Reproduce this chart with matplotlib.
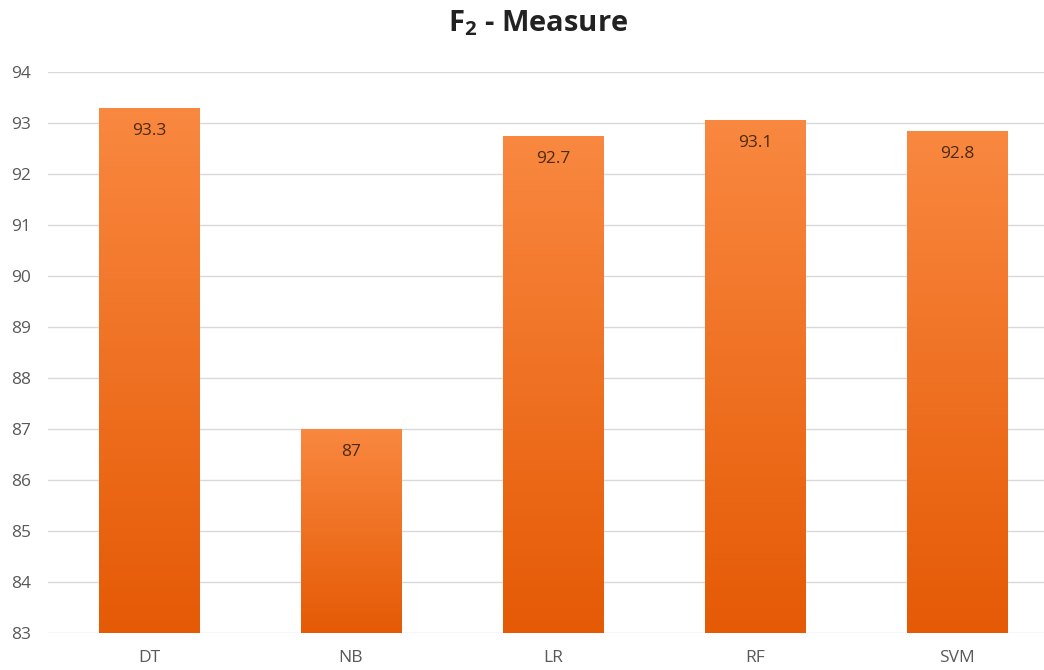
import matplotlib
matplotlib.use("Agg")
import matplotlib.pyplot as plt
import numpy as np
from matplotlib.colors import LinearSegmentedColormap

# data
models = ["DT", "NB", "LR", "RF", "SVM"]
f2_scores = [93.28, 87.0, 92.74, 93.06, 92.84]
y_ticks = [83, 84, 85, 86, 87, 88, 89, 90, 91, 92, 93, 94]

plt.rcParams['font.family'] = ['Open Sans', 'DejaVu Sans']

fig = plt.figure(figsize=(10.44, 6.70), dpi=100)
ax = fig.add_axes([48 / 1044, 1 - 633 / 670, 1 - 48 / 1044, (633 - 71.7) / 670])

x = np.arange(len(models))
bars = ax.bar(x, f2_scores, width=0.5, color="#F06A1A", zorder=2)

# orange gradient inside each bar, lighter at the top
grad_cmap = LinearSegmentedColormap.from_list("orange", ["#E55A05", "#F98840"])
gradient = np.linspace(0, 1, 256).reshape(-1, 1)
for rect in bars:
    x0 = rect.get_x()
    w = rect.get_width()
    h = rect.get_height()
    y0 = 83
    img = ax.imshow(gradient, cmap=grad_cmap, aspect="auto", origin="lower",
                    extent=(x0, x0 + w, y0, h), zorder=3)
    img.set_clip_path(rect)

# value labels near the top of each bar
for rect, v in zip(bars, f2_scores):
    ax.annotate("%g" % round(v, 1),
                (rect.get_x() + rect.get_width() / 2, rect.get_height()),
                xytext=(0, -16.5), textcoords="offset points",
                ha="center", va="center", fontsize=12.5, color="#4A2A12", zorder=4)

ax.set_ylim(83, 94)
ax.set_xlim(-0.5, 4.5 - 14 / 202)
ax.set_yticks(y_ticks)
ax.set_xticks(x)
ax.set_xticklabels(models)
ax.tick_params(length=0, labelsize=12.5, colors="#595959")
ax.tick_params(axis="x", pad=12)
ax.tick_params(axis="y", pad=12)
ax.grid(axis="y", color="#D9D9D9", linewidth=1, zorder=0)
for s in ax.spines.values():
    s.set_visible(False)

fig.text(538 / 1044, 1 - 23 / 670, r"F$_\mathregular{2}$ - Measure", ha="center", va="center",
         fontsize=21, fontweight="bold", color="#222222")

fig.savefig("out.png", dpi=100)
